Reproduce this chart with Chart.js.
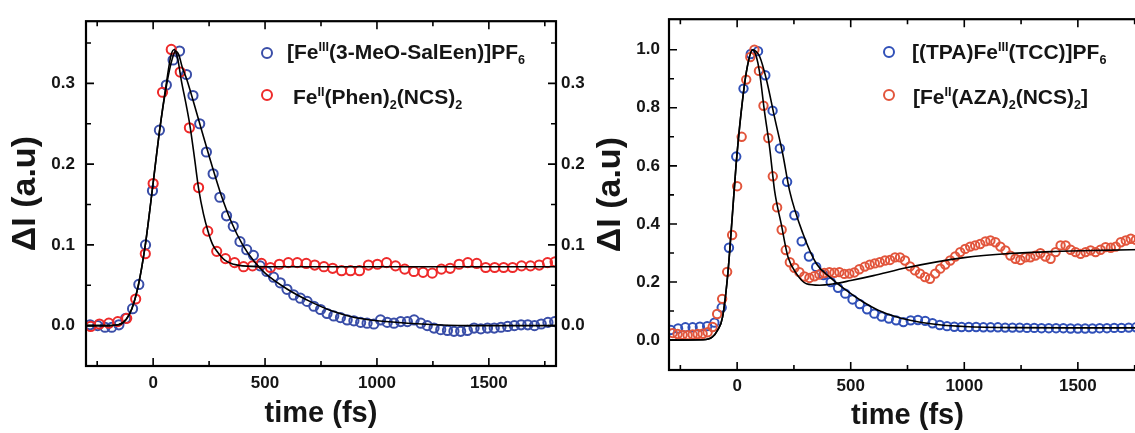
<!DOCTYPE html>
<html>
<head>
<meta charset="UTF-8">
<title>ΔI vs time</title>
<script src="https://cdn.jsdelivr.net/npm/chart.js"></script>
<style>
  html, body { margin: 0; padding: 0; background: #fff; overflow: hidden; width: 1135px; height: 433px; }
  canvas { position: absolute; top: 0; }
  #left { left: 0; }
  #right { left: 590px; }
  .dot { position: absolute; width: 8px; height: 8px; border: 2px solid; border-radius: 50%; }
  .key { position: absolute; font: bold 21px "Liberation Sans", Arial, sans-serif; color: #151515; line-height: 24px; white-space: nowrap; }
  .key sup, .key sub { font-size: 0.6em; line-height: 0; }
</style>
</head>
<body>
  <canvas id="left" width="600" height="433"></canvas>
  <canvas id="right" width="570" height="433"></canvas>

  <span class="dot" style="left:261px;top:47px;border-color:#3a4ea8"></span>
  <div class="key" style="left:287px;top:40px">[Fe<sup>III</sup>(3-MeO-SalEen)]PF<sub>6</sub></div>
  <span class="dot" style="left:261px;top:89px;border-color:#ee2a2a"></span>
  <div class="key" style="left:293px;top:85px">Fe<sup>II</sup>(Phen)<sub>2</sub>(NCS)<sub>2</sub></div>

  <span class="dot" style="left:883px;top:46px;border-color:#3050b8"></span>
  <div class="key" style="left:912px;top:40px">[(TPA)Fe<sup>III</sup>(TCC)]PF<sub>6</sub></div>
  <span class="dot" style="left:883px;top:89px;border-color:#e2553c"></span>
  <div class="key" style="left:913px;top:85px">[Fe<sup>II</sup>(AZA)<sub>2</sub>(NCS)<sub>2</sub>]</div>

  <script>
    // ---- left panel data ----
    const leftTimeBlue = [
      -282,-248,-215,-185,-153,-123,-92,-64,-34,-3,
      28,59,89,118,149,178,208,238,268,298,
      328,358,388,418,448,478,508,538,568,598,
      628,658,688,718,748,777,807,837,867,897,
      927,956,986,1016,1046,1076,1106,1136,1166,1196,
      1225,1255,1285,1315,1344,1374,1404,1434,1464,1494,
      1524,1554,1584,1614,1644,1674,1704,1734,1764,1794];
    const leftBlue = [
      0.001,0.000,-0.002,-0.002,0.001,0.009,0.021,0.051,0.100,0.167,
      0.242,0.298,0.329,0.340,0.311,0.285,0.250,0.215,0.188,0.159,
      0.136,0.123,0.104,0.094,0.087,0.074,0.067,0.060,0.053,0.045,
      0.038,0.034,0.030,0.024,0.020,0.015,0.012,0.010,0.007,0.006,
      0.004,0.003,0.002,0.007,0.004,0.003,0.005,0.005,0.007,0.003,
      0.000,-0.003,-0.005,-0.006,-0.007,-0.007,-0.006,-0.003,-0.004,-0.003,
      -0.003,-0.002,-0.001,0.000,0.001,0.001,0.000,0.002,0.004,0.005];

    const leftTimeRed = [
      -279,-240,-198,-158,-118,-78,-35,0,42,81,
      121,162,203,244,284,323,364,404,444,484,
      524,564,604,644,684,722,763,802,842,882,
      922,962,1002,1043,1083,1124,1165,1206,1247,1288,
      1327,1367,1406,1446,1486,1526,1566,1606,1646,1686,
      1725,1762,1796];
    const leftRed = [
      -0.001,0.002,0.003,0.005,0.009,0.033,0.089,0.176,0.289,0.342,
      0.314,0.245,0.171,0.117,0.092,0.083,0.078,0.073,0.074,0.077,
      0.072,0.076,0.078,0.078,0.077,0.075,0.073,0.071,0.068,0.068,
      0.068,0.075,0.076,0.078,0.074,0.070,0.067,0.066,0.065,0.070,
      0.071,0.076,0.078,0.077,0.072,0.072,0.072,0.072,0.074,0.074,
      0.075,0.078,0.079];

    const leftFitTimeBlue = [-300,-200,-155,-120,-95,-66,-36,-6,28,60,85,100,115,130,150,200,250,300,350,400,450,500,600,700,800,900,1000,1200,1400,1800];
    const leftFitBlue = [0,0,0.001,0.008,0.021,0.05,0.098,0.163,0.24,0.298,0.33,0.34,0.335,0.32,0.305,0.258,0.21,0.165,0.128,0.1,0.08,0.065,0.045,0.03,0.018,0.01,0.006,0.002,0,0];
    const leftFitTimeRed = [-300,-200,-155,-120,-95,-66,-36,-6,28,60,80,95,110,125,150,166,185,203,225,245,265,285,320,360,400,500,700,1000,1400,1800];
    const leftFitRed = [0,0,0.001,0.008,0.021,0.05,0.098,0.163,0.24,0.302,0.335,0.342,0.33,0.305,0.27,0.245,0.207,0.17,0.138,0.117,0.101,0.092,0.081,0.076,0.074,0.073,0.073,0.073,0.073,0.073];

    // ---- right panel data ----
    const rightTimeBlue = [
      -292,-260,-228,-196,-164,-132,-100,-68,-36,-4,
      28,60,92,124,156,188,220,252,284,316,
      348,380,412,444,476,508,540,572,604,636,
      668,700,732,764,796,828,860,892,924,956,
      988,1020,1052,1084,1116,1148,1180,1212,1244,1276,
      1308,1340,1372,1404,1436,1468,1500,1532,1564,1596,
      1628,1660,1692,1724,1756,1788];
    const rightBlue = [
      0.035,0.040,0.044,0.044,0.046,0.048,0.060,0.112,0.318,0.632,
      0.866,0.985,0.995,0.912,0.790,0.660,0.545,0.430,0.340,0.288,
      0.252,0.224,0.200,0.180,0.160,0.140,0.124,0.106,0.091,0.081,
      0.074,0.068,0.062,0.068,0.069,0.066,0.058,0.052,0.048,0.046,
      0.045,0.045,0.045,0.044,0.044,0.044,0.043,0.043,0.043,0.042,
      0.042,0.041,0.041,0.041,0.041,0.040,0.040,0.040,0.040,0.041,
      0.041,0.042,0.042,0.043,0.044,0.044];

    const rightTimeRed = [
      -284,-262,-240,-218,-196,-174,-152,-130,-108,-88,
      -66,-44,-22,0,20,40,58,76,96,116,
      137,157,176,196,214,232,252,274,296,318,
      340,362,384,406,428,450,472,494,516,538,
      562,584,606,628,651,673,695,717,739,761,
      783,805,827,849,872,894,916,938,960,982,
      1004,1026,1048,1070,1093,1115,1137,1159,1181,1203,
      1225,1247,1269,1291,1313,1335,1357,1380,1402,1424,
      1446,1468,1490,1512,1534,1556,1578,1600,1622,1645,
      1667,1689,1711,1733,1755,1777,1799];
    const rightRed = [
      0.024,0.021,0.018,0.017,0.019,0.021,0.022,0.027,0.045,0.090,
      0.142,0.235,0.362,0.530,0.700,0.897,0.975,1.000,0.927,0.807,
      0.696,0.564,0.457,0.380,0.310,0.268,0.249,0.234,0.219,0.214,
      0.220,0.226,0.231,0.234,0.232,0.234,0.228,0.229,0.233,0.244,
      0.253,0.260,0.264,0.268,0.274,0.276,0.285,0.285,0.274,0.254,
      0.240,0.229,0.217,0.211,0.229,0.246,0.260,0.274,0.288,0.303,
      0.314,0.322,0.326,0.331,0.340,0.343,0.337,0.322,0.309,0.291,
      0.280,0.276,0.285,0.285,0.291,0.299,0.288,0.280,0.303,0.326,
      0.326,0.311,0.303,0.297,0.303,0.309,0.303,0.311,0.320,0.318,
      0.322,0.337,0.343,0.349,0.345,0.350,0.350];

    const rightFitTimeBlue = [-300,-150,-110,-86,-64,-41,-22,-5,17,42,69,85,100,128,165,201,231,290,349,408,481,555,621,700,800,900,1000,1200,1500,1800];
    const rightFitBlue = [0,0.001,0.01,0.034,0.08,0.229,0.42,0.6,0.78,0.93,1.0,0.993,0.975,0.9,0.766,0.64,0.514,0.366,0.263,0.217,0.171,0.131,0.103,0.08,0.062,0.052,0.047,0.043,0.042,0.042];
    const rightFitTimeRed = [-300,-150,-110,-86,-64,-41,-22,-5,17,42,69,85,98,120,143,165,194,224,261,305,363,420,500,600,750,1000,1200,1400,1600,1800];
    const rightFitRed = [0,0.001,0.01,0.034,0.08,0.229,0.42,0.6,0.78,0.93,1.0,0.975,0.926,0.789,0.663,0.514,0.4,0.286,0.229,0.194,0.189,0.193,0.205,0.222,0.25,0.284,0.298,0.305,0.309,0.312];

    // ---- ticks ----
    const timeTicks = [0, 500, 1000, 1500];
    const timeMinor = [-250, 250, 750, 1250, 1750];
    const leftYTicks = [0, 0.1, 0.2, 0.3];
    const leftYMinor = [0.05, 0.15, 0.25, 0.35];
    const rightYTicks = [0, 0.2, 0.4, 0.6, 0.8, 1.0];
    const rightYMinor = [0.1, 0.3, 0.5, 0.7, 0.9];

    Chart.defaults.font.family = '"Liberation Sans", Arial, sans-serif';
    Chart.defaults.color = '#151515';

    const pts = (xs, ys) => xs.map((x, i) => ({ x: x, y: ys[i] }));

    // frame with inward ticks on all four sides
    const framePlugin = {
      id: 'frame',
      afterDatasetsDraw(chart, args, o) {
        const { ctx, chartArea: a } = chart;
        const sx = chart.scales.x, sy = chart.scales.y;
        ctx.save();
        ctx.strokeStyle = '#000';
        ctx.lineWidth = 1.6;
        ctx.beginPath();
        const seg = (x1, y1, x2, y2) => { ctx.moveTo(x1, y1); ctx.lineTo(x2, y2); };
        o.xMajor.forEach(v => { const p = sx.getPixelForValue(v); seg(p, a.bottom, p, a.bottom - 8); seg(p, a.top, p, a.top + 8); });
        o.xMinor.forEach(v => { const p = sx.getPixelForValue(v); seg(p, a.bottom, p, a.bottom - 5); seg(p, a.top, p, a.top + 5); });
        o.yMajor.forEach(v => { const p = sy.getPixelForValue(v); seg(a.left, p, a.left + 8, p); seg(a.right, p, a.right - 8, p); });
        o.yMinor.forEach(v => { const p = sy.getPixelForValue(v); seg(a.left, p, a.left + 5, p); seg(a.right, p, a.right - 5, p); });
        ctx.stroke();
        ctx.lineWidth = 2.2;
        ctx.strokeRect(a.left, a.top, a.right - a.left, a.bottom - a.top);
        ctx.restore();
      }
    };

    const markers = (data, color, r, bw) => ({
      type: 'scatter', data: data, showLine: false,
      pointStyle: 'circle', pointRadius: r, pointBorderWidth: bw,
      borderColor: color, backgroundColor: 'rgba(0,0,0,0)'
    });
    const fit = data => ({
      type: 'line', data: data, borderColor: '#000', borderWidth: 1.6,
      pointRadius: 0, cubicInterpolationMode: 'monotone', fill: false
    });

    const tickFont = { size: 17, weight: 'bold' };
    const titleFont = { size: 29, weight: 'bold' };
    const yTitleFont = { size: 34, weight: 'bold' };

    // left chart
    new Chart(document.getElementById('left'), {
      type: 'scatter',
      data: {
        datasets: [
          fit(pts(leftFitTimeBlue, leftFitBlue)),
          fit(pts(leftFitTimeRed, leftFitRed)),
          markers(pts(leftTimeRed, leftRed), '#ee2a2a', 4.6, 2),
          markers(pts(leftTimeBlue, leftBlue), '#3a4ea8', 4.6, 2)
        ]
      },
      options: {
        responsive: false, animation: false, events: [],
        layout: { padding: { top: 15, left: 0, right: 0, bottom: 0 } },
        plugins: { legend: { display: false }, tooltip: { enabled: false },
          frame: { xMajor: timeTicks, xMinor: timeMinor, yMajor: leftYTicks, yMinor: leftYMinor } },
        scales: {
          x: {
            type: 'linear', position: 'bottom', min: -300, max: 1800,
            grid: { display: false, drawTicks: false }, border: { display: false },
            ticks: { font: tickFont, padding: 7, callback: v => v },
            afterBuildTicks: s => { s.ticks = timeTicks.map(v => ({ value: v })); },
            afterFit: s => { s.height = 67; },
            title: { display: true, text: 'time (fs)', font: titleFont, padding: { top: 0, bottom: 2 } }
          },
          y: {
            type: 'linear', position: 'left', min: -0.05, max: 0.377,
            grid: { display: false, drawTicks: false }, border: { display: false },
            ticks: { font: tickFont, padding: 11, callback: v => Number(v).toFixed(1) },
            afterBuildTicks: s => { s.ticks = leftYTicks.map(v => ({ value: v })); },
            afterFit: s => { s.width = 86; },
            title: { display: true, text: 'ΔI (a.u)', font: yTitleFont, padding: { top: 5, bottom: 0 } }
          },
          y2: {
            type: 'linear', position: 'right', min: -0.05, max: 0.377,
            grid: { display: false, drawTicks: false }, border: { display: false },
            ticks: { font: tickFont, padding: 5, callback: v => Number(v).toFixed(1) },
            afterBuildTicks: s => { s.ticks = leftYTicks.map(v => ({ value: v })); },
            afterFit: s => { s.width = 44; }
          }
        }
      },
      plugins: [framePlugin]
    });

    // right chart
    new Chart(document.getElementById('right'), {
      type: 'scatter',
      data: {
        datasets: [
          fit(pts(rightFitTimeBlue, rightFitBlue)),
          fit(pts(rightFitTimeRed, rightFitRed)),
          markers(pts(rightTimeRed, rightRed), '#e2553c', 4.2, 2),
          markers(pts(rightTimeBlue, rightBlue), '#3050b8', 4.2, 2)
        ]
      },
      options: {
        responsive: false, animation: false, events: [],
        layout: { padding: { top: 18, left: 0, right: 14, bottom: 0 } },
        plugins: { legend: { display: false }, tooltip: { enabled: false },
          frame: { xMajor: timeTicks, xMinor: timeMinor, yMajor: rightYTicks, yMinor: rightYMinor } },
        scales: {
          x: {
            type: 'linear', position: 'bottom', min: -300, max: 1800,
            grid: { display: false, drawTicks: false }, border: { display: false },
            ticks: { font: tickFont, padding: 6, callback: v => v },
            afterBuildTicks: s => { s.ticks = timeTicks.map(v => ({ value: v })); },
            afterFit: s => { s.height = 63; },
            title: { display: true, text: 'time (fs)', font: titleFont, padding: { top: 0, bottom: 0 } }
          },
          y: {
            type: 'linear', position: 'left', min: -0.103, max: 1.105,
            grid: { display: false, drawTicks: false }, border: { display: false },
            ticks: { font: tickFont, padding: 9, callback: v => Number(v).toFixed(1) },
            afterBuildTicks: s => { s.ticks = rightYTicks.map(v => ({ value: v })); },
            afterFit: s => { s.width = 79; },
            title: { display: true, text: 'ΔI (a.u)', font: yTitleFont, padding: { top: 0, bottom: 0 } }
          }
        }
      },
      plugins: [framePlugin]
    });
  </script>
</body>
</html>
